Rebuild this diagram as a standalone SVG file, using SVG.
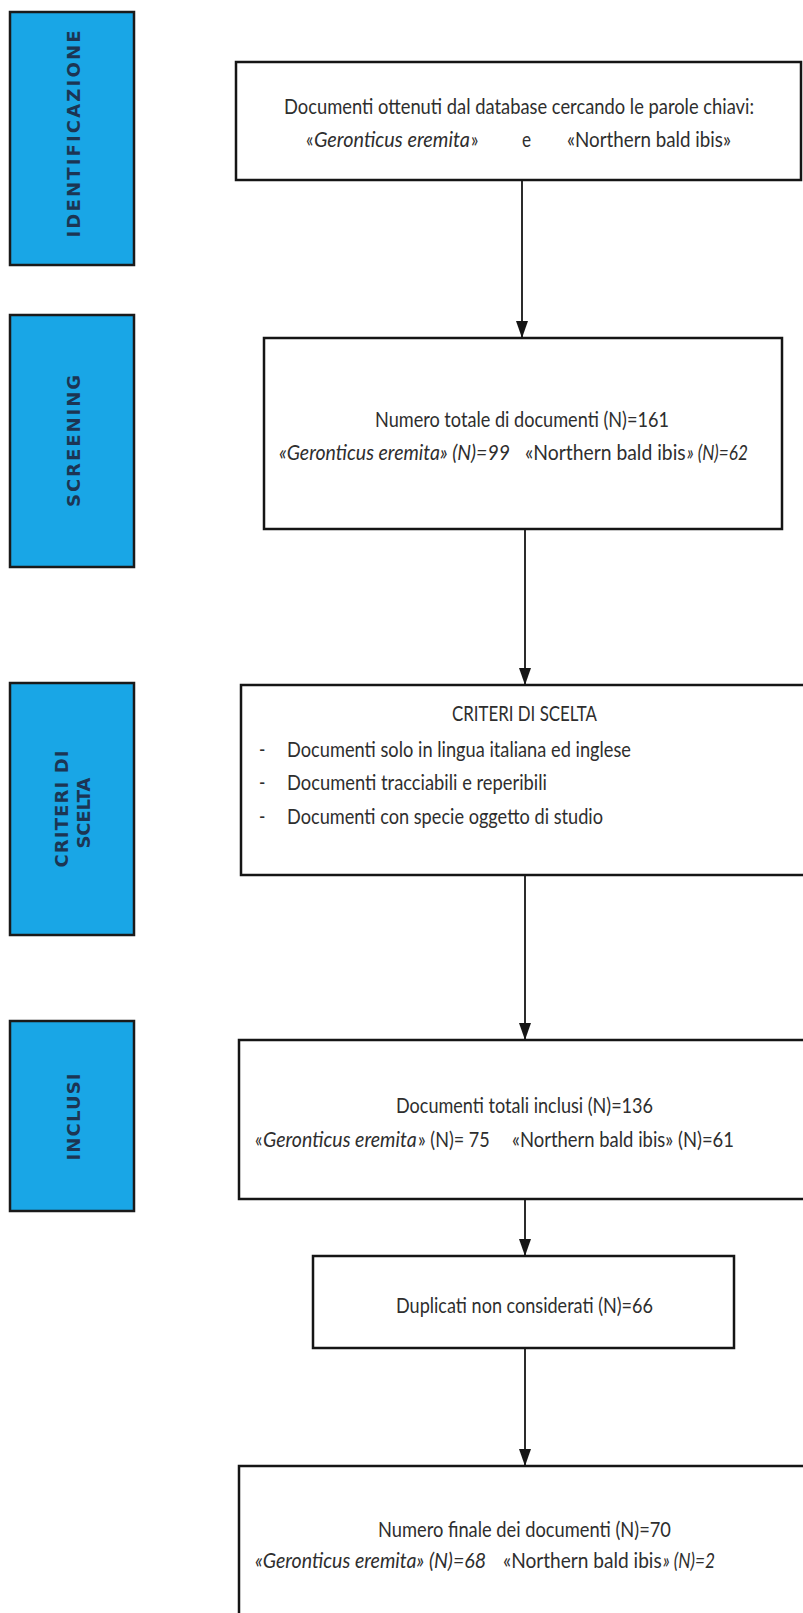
<svg xmlns="http://www.w3.org/2000/svg" width="803" height="1613" viewBox="0 0 803 1613">
<defs>
<style>
.phase{fill:#19a6e6;stroke:#1a1a1a;stroke-width:2.5}
.phasetxt{font-family:"DejaVu Sans",Verdana,sans-serif;font-weight:bold;font-size:18px;fill:#1c3553}
.box{fill:#ffffff;stroke:#151515;stroke-width:2.5}
.t{font-family:Lato,"Liberation Sans",Arial,sans-serif;font-size:22px;fill:#2e2e2e}
.i{font-style:italic}
.conn{stroke:#151515;stroke-width:1.8;fill:none}
</style>
<marker id="arr" viewBox="0 0 17 12" refX="17" refY="6" markerWidth="17" markerHeight="12" markerUnits="userSpaceOnUse" orient="auto">
<path d="M0,0 L17,6 L0,12 z" fill="#151515"/>
</marker>
</defs>
<rect width="803" height="1613" fill="#ffffff"/>

<g id="phase-identificazione">
<rect class="phase" x="10" y="12" width="124" height="253"/>
<text class="phasetxt" transform="translate(80,134) rotate(-90)" text-anchor="middle" textLength="207" lengthAdjust="spacing">IDENTIFICAZIONE</text>
</g>
<g id="phase-screening">
<rect class="phase" x="10" y="315" width="124" height="252"/>
<text class="phasetxt" transform="translate(80,441) rotate(-90)" text-anchor="middle" textLength="132" lengthAdjust="spacing">SCREENING</text>
</g>
<g id="phase-criteri">
<rect class="phase" x="10" y="683" width="124" height="252"/>
<text class="phasetxt" transform="translate(68,809) rotate(-90)" text-anchor="middle" textLength="117" lengthAdjust="spacing">CRITERI DI</text>
<text class="phasetxt" transform="translate(90,813) rotate(-90)" text-anchor="middle" textLength="71" lengthAdjust="spacing">SCELTA</text>
</g>
<g id="phase-inclusi">
<rect class="phase" x="10" y="1021" width="124" height="190"/>
<text class="phasetxt" transform="translate(80,1117) rotate(-90)" text-anchor="middle" textLength="87" lengthAdjust="spacing">INCLUSI</text>
</g>

<g id="connectors">
<line class="conn" x1="522" y1="180" x2="522" y2="338" marker-end="url(#arr)"/>
<line class="conn" x1="525" y1="529" x2="525" y2="685" marker-end="url(#arr)"/>
<line class="conn" x1="525" y1="875" x2="525" y2="1040" marker-end="url(#arr)"/>
<line class="conn" x1="525" y1="1199" x2="525" y2="1256" marker-end="url(#arr)"/>
<line class="conn" x1="525" y1="1348" x2="525" y2="1466" marker-end="url(#arr)"/>
</g>

<g id="node-identificazione">
<rect class="box" x="236" y="62" width="565" height="118"/>
<text class="t" transform="translate(284,114) scale(0.78,1)" textLength="602.6" lengthAdjust="spacingAndGlyphs">Documenti ottenuti dal database cercando le parole chiavi:</text>
<text class="t" transform="translate(306,147) scale(0.78,1)">«</text>
<text class="t i" transform="translate(314,147) scale(0.78,1)" textLength="200" lengthAdjust="spacingAndGlyphs">Geronticus eremita</text>
<text class="t" transform="translate(471,147) scale(0.78,1)">»</text>
<text class="t" transform="translate(522,147) scale(0.78,1)">e</text>
<text class="t" transform="translate(567,147) scale(0.78,1)" textLength="210.3" lengthAdjust="spacingAndGlyphs">«Northern bald ibis»</text>
</g>

<g id="node-screening">
<rect class="box" x="264" y="338" width="518" height="191"/>
<text class="t" transform="translate(375,427) scale(0.78,1)" textLength="376.9" lengthAdjust="spacingAndGlyphs">Numero totale di documenti (N)=161</text>
<text class="t i" transform="translate(279,460) scale(0.78,1)" textLength="296.2" lengthAdjust="spacingAndGlyphs">«Geronticus eremita» (N)=99</text>
<text class="t" transform="translate(525,460) scale(0.78,1)" textLength="206" lengthAdjust="spacingAndGlyphs">«Northern bald ibis</text>
<text class="t i" transform="translate(687,460) scale(0.78,1)" textLength="78" lengthAdjust="spacingAndGlyphs">» (N)=62</text>
</g>

<g id="node-criteri">
<rect class="box" x="241" y="685" width="575" height="190"/>
<text class="t" transform="translate(452,721) scale(0.78,1)" textLength="185.9" lengthAdjust="spacingAndGlyphs">CRITERI DI SCELTA</text>
<text class="t" transform="translate(259,757) scale(0.78,1)">-</text>
<text class="t" transform="translate(287,757) scale(0.78,1)" textLength="441" lengthAdjust="spacingAndGlyphs">Documenti solo in lingua italiana ed inglese</text>
<text class="t" transform="translate(259,790) scale(0.78,1)">-</text>
<text class="t" transform="translate(287,790) scale(0.78,1)" textLength="333.3" lengthAdjust="spacingAndGlyphs">Documenti tracciabili e reperibili</text>
<text class="t" transform="translate(259,824) scale(0.78,1)">-</text>
<text class="t" transform="translate(287,824) scale(0.78,1)" textLength="405.1" lengthAdjust="spacingAndGlyphs">Documenti con specie oggetto di studio</text>
</g>

<g id="node-inclusi">
<rect class="box" x="239" y="1040" width="577" height="159"/>
<text class="t" transform="translate(396,1113) scale(0.78,1)" textLength="329.5" lengthAdjust="spacingAndGlyphs">Documenti totali inclusi (N)=136</text>
<text class="t" transform="translate(255,1147) scale(0.78,1)">«</text>
<text class="t i" transform="translate(263,1147) scale(0.78,1)" textLength="197" lengthAdjust="spacingAndGlyphs">Geronticus eremita</text>
<text class="t" transform="translate(418,1147) scale(0.78,1)" textLength="92" lengthAdjust="spacingAndGlyphs">» (N)= 75</text>
<text class="t" transform="translate(512,1147) scale(0.78,1)" textLength="284.6" lengthAdjust="spacingAndGlyphs">«Northern bald ibis» (N)=61</text>
</g>

<g id="node-duplicati">
<rect class="box" x="313" y="1256" width="421" height="92"/>
<text class="t" transform="translate(396,1313) scale(0.78,1)" textLength="329.5" lengthAdjust="spacingAndGlyphs">Duplicati non considerati (N)=66</text>
</g>

<g id="node-finale">
<rect class="box" x="239" y="1466" width="577" height="170"/>
<text class="t" transform="translate(378,1537) scale(0.78,1)" textLength="375.6" lengthAdjust="spacingAndGlyphs">Numero finale dei documenti (N)=70</text>
<text class="t i" transform="translate(255,1568) scale(0.78,1)" textLength="296.2" lengthAdjust="spacingAndGlyphs">«Geronticus eremita» (N)=68</text>
<text class="t" transform="translate(503,1568) scale(0.78,1)" textLength="203.5" lengthAdjust="spacingAndGlyphs">«Northern bald ibis</text>
<text class="t i" transform="translate(663,1568) scale(0.78,1)" textLength="66.7" lengthAdjust="spacingAndGlyphs">» (N)=2</text>
</g>
</svg>
